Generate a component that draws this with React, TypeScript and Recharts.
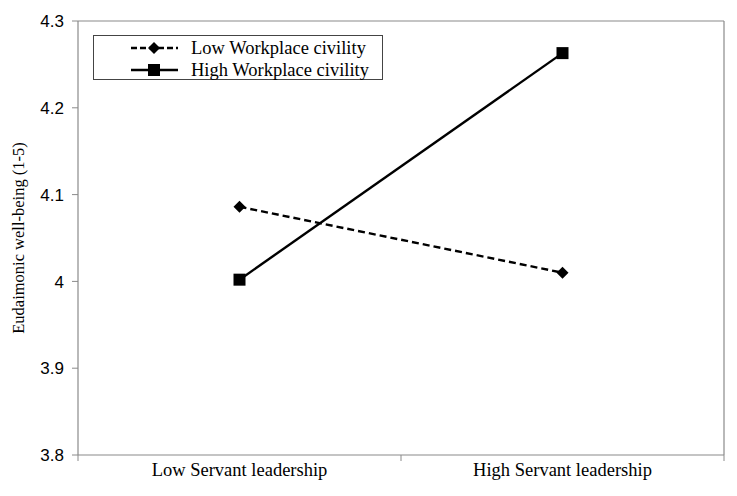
import React from 'react';
import { LineChart, Line, XAxis, YAxis, Legend, ReferenceLine } from 'recharts';

const categories = ['Low Servant leadership', 'High Servant leadership'];
const seriesNames = ['Low Workplace civility', 'High Workplace civility'];
const lowCivility = [4.086, 4.010];
const highCivility = [4.002, 4.263];
const yTicks = [3.8, 3.9, 4, 4.1, 4.2, 4.3];
const xTicks = [0, 0.5, 1, 1.5, 2];

const data = categories.map((c, i) => ({
  pos: i + 0.5,
  name: c,
  low: lowCivility[i],
  high: highCivility[i],
}));

const AXIS = '#8a8a8a';
const SERIF = '"Liberation Serif", "Times New Roman", serif';
const SANS = '"Liberation Sans", Arial, sans-serif';

const Diamond = (props: any) => {
  const { cx, cy } = props;
  if (cx == null || cy == null) return null;
  const s = 6;
  return (
    <polygon
      points={`${cx},${cy - s} ${cx + s},${cy} ${cx},${cy + s} ${cx - s},${cy}`}
      fill="#000"
    />
  );
};

const Square = (props: any) => {
  const { cx, cy } = props;
  if (cx == null || cy == null) return null;
  const s = 6;
  return <rect x={cx - s} y={cy - s} width={2 * s} height={2 * s} fill="#000" />;
};

const XTick = (props: any) => {
  const { x, y, payload } = props;
  const v = payload.value;
  if (Math.abs(v - Math.round(v)) < 1e-6) {
    return <line x1={x} x2={x} y1={y - 8} y2={y - 2} stroke={AXIS} strokeWidth={1} />;
  }
  return (
    <text x={x} y={y + 13} textAnchor="middle" fontFamily={SERIF} fontSize={18.5} fill="#000">
      {categories[Math.floor(v)]}
    </text>
  );
};

const YTick = (props: any) => {
  const { x, y, payload } = props;
  return (
    <text x={x} y={y} dy="0.36em" textAnchor="end" fontFamily={SANS} fontSize={17} fill="#000">
      {String(payload.value)}
    </text>
  );
};

const LegendBox = () => (
  <div
    style={{
      position: 'relative',
      width: 290,
      height: 45,
      boxSizing: 'border-box',
      border: '1px solid #444',
      background: '#fff',
    }}
  >
    {seriesNames.map((n, i) => (
      <div
        key={n}
        style={{
          position: 'absolute',
          left: 36,
          top: 1 + i * 22,
          height: 22,
          display: 'flex',
          alignItems: 'center',
          whiteSpace: 'nowrap',
        }}
      >
        <svg width={50} height={22} style={{ display: 'block' }}>
          <line
            x1={1}
            x2={48}
            y1={11}
            y2={11}
            stroke="#000"
            strokeWidth={2.4}
            strokeDasharray={i === 0 ? '6 3' : undefined}
          />
          {i === 0 ? (
            <polygon points="24,5 30,11 24,17 18,11" fill="#000" />
          ) : (
            <rect x={18} y={5} width={12} height={12} fill="#000" />
          )}
        </svg>
        <span
          style={{
            marginLeft: 11,
            fontFamily: SERIF,
            fontSize: 18.5,
            color: '#000',
            lineHeight: '22px',
          }}
        >
          {n}
        </span>
      </div>
    ))}
  </div>
);

export default function App() {
  return (
    <div style={{ position: 'absolute', left: 0, top: 0, width: 737, height: 496, background: '#fff' }}>
      <LineChart
        width={737}
        height={496}
        data={data}
        margin={{ top: 21, right: 13, bottom: 0, left: 0 }}
      >
        <XAxis
          dataKey="pos"
          type="number"
          domain={[0, 2]}
          ticks={xTicks}
          interval={0}
          tick={<XTick />}
          tickLine={false}
          axisLine={{ stroke: AXIS, strokeWidth: 1.2 }}
          height={41}
        />
        <YAxis
          type="number"
          domain={[3.8, 4.3]}
          ticks={yTicks}
          interval={0}
          width={78}
          tickSize={6}
          tickMargin={8}
          tick={<YTick />}
          tickLine={{ stroke: AXIS }}
          axisLine={{ stroke: AXIS, strokeWidth: 1.2 }}
          label={{
            value: 'Eudaimonic well-being (1-5)',
            angle: -90,
            position: 'insideLeft',
            offset: 18,
            style: { textAnchor: 'middle', fontFamily: SERIF, fontSize: 16.5, fill: '#000' },
          }}
        />
        <ReferenceLine y={4.3} stroke={AXIS} strokeWidth={1.2} />
        <ReferenceLine x={2} stroke={AXIS} strokeWidth={1.2} />
        <Legend
          layout="vertical"
          align="center"
          verticalAlign="middle"
          content={() => <LegendBox />}
          wrapperStyle={{ position: 'absolute', left: 93, top: 35, width: 290, height: 45 }}
        />
        <Line
          dataKey="low"
          name={seriesNames[0]}
          stroke="#000"
          strokeWidth={2.4}
          strokeDasharray="7 4"
          dot={<Diamond />}
          activeDot={false}
          isAnimationActive={false}
        />
        <Line
          dataKey="high"
          name={seriesNames[1]}
          stroke="#000"
          strokeWidth={2.4}
          dot={<Square />}
          activeDot={false}
          isAnimationActive={false}
        />
      </LineChart>
    </div>
  );
}
